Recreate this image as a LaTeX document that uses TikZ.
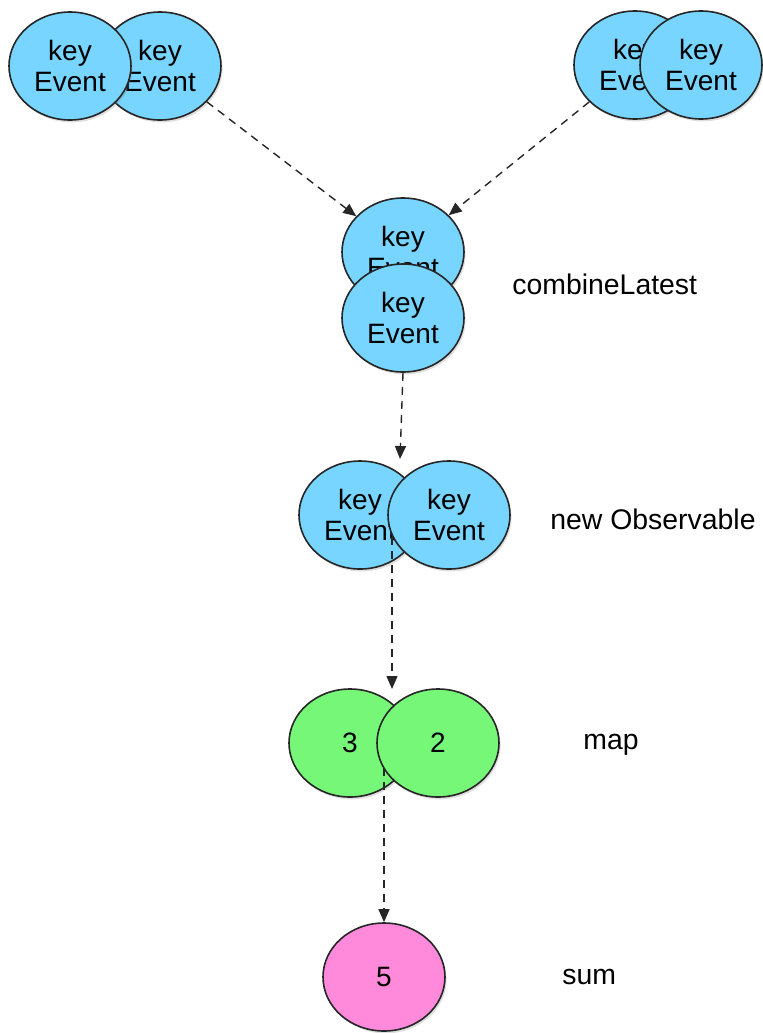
\documentclass[tikz,border=0pt]{standalone}
\usepackage{fontspec}
\setmainfont{Liberation Sans}
\usepackage{xcolor}
\definecolor{evtblue}{HTML}{77D5FF}
\definecolor{numgreen}{HTML}{76F778}
\definecolor{sumpink}{HTML}{FF89DA}
\usetikzlibrary{arrows.meta,positioning,shapes.geometric,shadows}
\tikzset{
  bubble/.style = {ellipse, draw=black!85, line width=0.8pt, inner sep=0pt,
                   minimum width=61pt, minimum height=54pt, align=center,
                   font=\fontsize{14}{15.5}\selectfont,
                   drop shadow={shadow xshift=0.8pt, shadow yshift=-1.2pt, opacity=0.25}},
  evt/.style    = {bubble, fill=evtblue},
  num/.style    = {bubble, fill=numgreen},
  res/.style    = {bubble, fill=sumpink},
  lbl/.style    = {anchor=west, inner sep=0pt, font=\fontsize{14.2}{16}\selectfont},
  arr/.style    = {-{Triangle[length=6.5pt,width=5.5pt]}, line width=0.7pt,
                   dash pattern=on 4pt off 3pt, draw=black!85}
}
\begin{document}
\begin{tikzpicture}[x=0.5pt, y=-0.5pt]
  \useasboundingbox (0,0) rectangle (763,1033);
  % two source streams
  \node[evt] (tl2) at (160,66) {key\\Event};
  \node[evt] (tl1) at (70,66) {key\\Event};
  \node[evt] (tr1) at (635,65) {key\\Event};
  \node[evt] (tr2) at (701,65) {key\\Event};
  % combineLatest
  \node[evt] (cb1) at (403,252) {key\\Event};
  \node[evt] (cb2) at (403,318) {key\\Event};
  \node[lbl] (lcb) at (512,284) {combineLatest};
  % new Observable
  \node[evt] (ob1) at (360,515) {key\\Event};
  \node[evt] (ob2) at (449,515) {key\\Event};
  \node[lbl] (lob) at (550,519) {new Observable};
  % map
  \node[num] (mp1) at (350,743) {3};
  \node[num] (mp2) at (438,743) {2};
  \node[lbl] (lmp) at (583,745) {map};
  % sum
  \node[res] (sm) at (384,977) {5};
  \node[lbl] (lsm) at (562,977) {sum};
  % free ends of the connectors
  \coordinate (obtop) at (400,459);
  \coordinate (obbot) at (392,537);
  \coordinate (mptop) at (392,689);
  \coordinate (mpbot) at (384,768);
  \foreach \a/\b in {tl2/cb1,tr1/cb1,cb2.south/obtop,obbot/mptop,mpbot/sm.north}
    \draw[arr] (\a) -- (\b);
\end{tikzpicture}
\end{document}
